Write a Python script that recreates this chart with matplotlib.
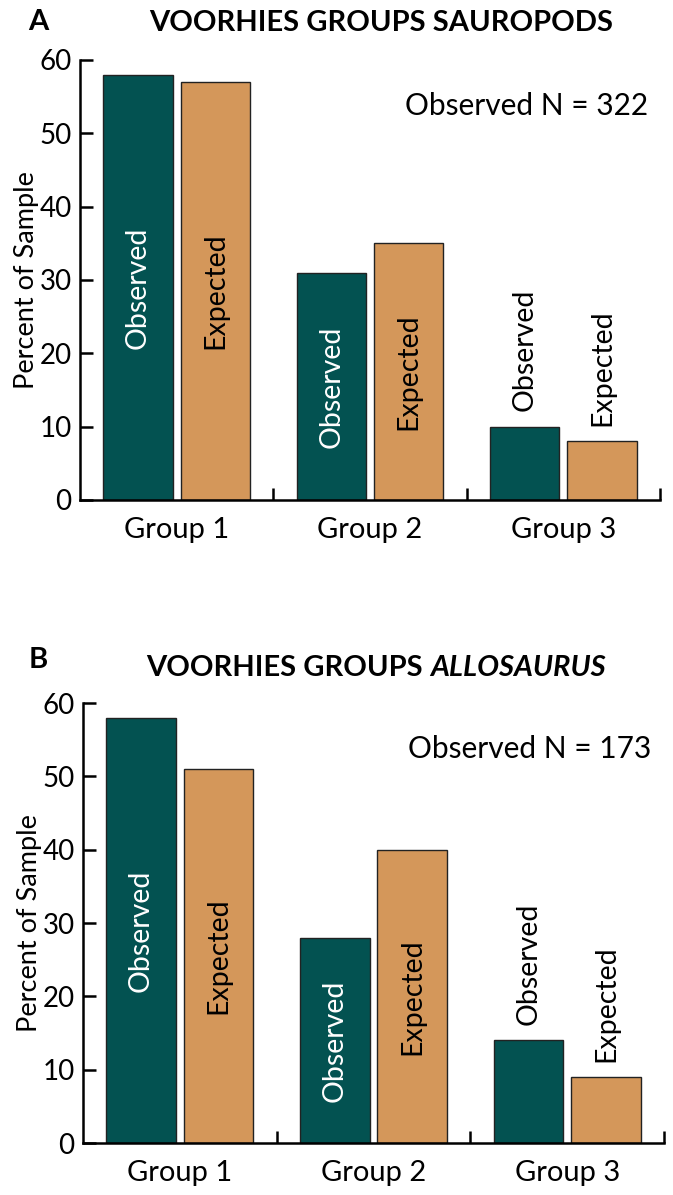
import matplotlib
matplotlib.use("Agg")
import matplotlib.pyplot as plt
import numpy as np

plt.rcParams['font.family'] = ['Lato', 'DejaVu Sans']

# Data
groups = ['Group 1', 'Group 2', 'Group 3']
sauropod_observed = [58, 31, 10]
sauropod_expected = [57, 35, 8]
allosaurus_observed = [58, 28, 14]
allosaurus_expected = [51, 40, 9]

OBS_COLOR = '#035251'
EXP_COLOR = '#d4975a'


def draw_panel(ax, observed, expected, n_text):
    x = np.arange(len(groups))
    width = 0.36
    ax.bar(x - 0.2, observed, width, color=OBS_COLOR, edgecolor='#222222', linewidth=1)
    ax.bar(x + 0.2, expected, width, color=EXP_COLOR, edgecolor='#222222', linewidth=1)

    # labels inside bars, or above them when the bar is too short
    for xi, vals in zip(x, zip(observed, expected)):
        for dx, v, name, col in zip((-0.2, 0.2), vals, ('Observed', 'Expected'), ('white', 'black')):
            if v >= 20:
                ax.text(xi + dx, v / 2, name, rotation=90, ha='center', va='center',
                        color=col, fontsize=20.5)
            else:
                ax.annotate(name, (xi + dx, v), xytext=(0, 11), textcoords='offset points',
                            rotation=90, ha='center', va='bottom', color='black', fontsize=20.5)

    ax.set_xlim(-0.5, 2.5)
    ax.set_ylim(0, 60)
    ax.set_yticks(range(0, 61, 10))
    ax.tick_params(axis='y', direction='in', length=9, width=1.8, labelsize=20, pad=6)
    ax.set_xticks(x)
    ax.set_xticklabels(groups, fontsize=21)
    ax.tick_params(axis='x', length=0, pad=12)
    ax.set_xticks([0.5, 1.5, 2.5], minor=True)
    ax.tick_params(axis='x', which='minor', direction='in', length=9, width=1.8)
    for side in ('top', 'right'):
        ax.spines[side].set_visible(False)
    for side in ('left', 'bottom'):
        ax.spines[side].set_linewidth(1.8)
    ax.set_ylabel('Percent of Sample', fontsize=19.5)
    ax.yaxis.set_label_coords(-0.07, 0.5)
    ax.text(0.56, 0.895, n_text, transform=ax.transAxes, fontsize=21.5, va='center')


fig = plt.figure(figsize=(6.73, 11.95), dpi=100)
ax1 = fig.add_axes([0.1189, 0.5816, 0.8618, 0.3682])
ax2 = fig.add_axes([0.1233, 0.0435, 0.8633, 0.3682])

draw_panel(ax1, sauropod_observed, sauropod_expected, 'Observed N = 322')
draw_panel(ax2, allosaurus_observed, allosaurus_expected, 'Observed N = 173')

fig.text(0.042, 0.982, 'A', fontsize=21, fontweight='bold', va='center', ha='left')
fig.text(0.566, 0.981, 'VOORHIES GROUPS SAUROPODS', fontsize=21, fontweight='bold',
         va='center', ha='center')
fig.text(0.042, 0.448, 'B', fontsize=21, fontweight='bold', va='center', ha='left')

# panel B title: upright part + italic genus, centred together
renderer = fig.canvas.get_renderer()
t1 = fig.text(0, 0.441, 'VOORHIES GROUPS ', fontsize=21, fontweight='bold', va='center', ha='left')
t2 = fig.text(0, 0.441, 'ALLOSAURUS', fontsize=21, fontweight='bold', style='italic',
              va='center', ha='left')
w1 = t1.get_window_extent(renderer).width / fig.bbox.width
w2 = t2.get_window_extent(renderer).width / fig.bbox.width
start = 0.559 - (w1 + w2) / 2
t1.set_x(start)
t2.set_x(start + w1)

fig.savefig('out.png', dpi=100)
